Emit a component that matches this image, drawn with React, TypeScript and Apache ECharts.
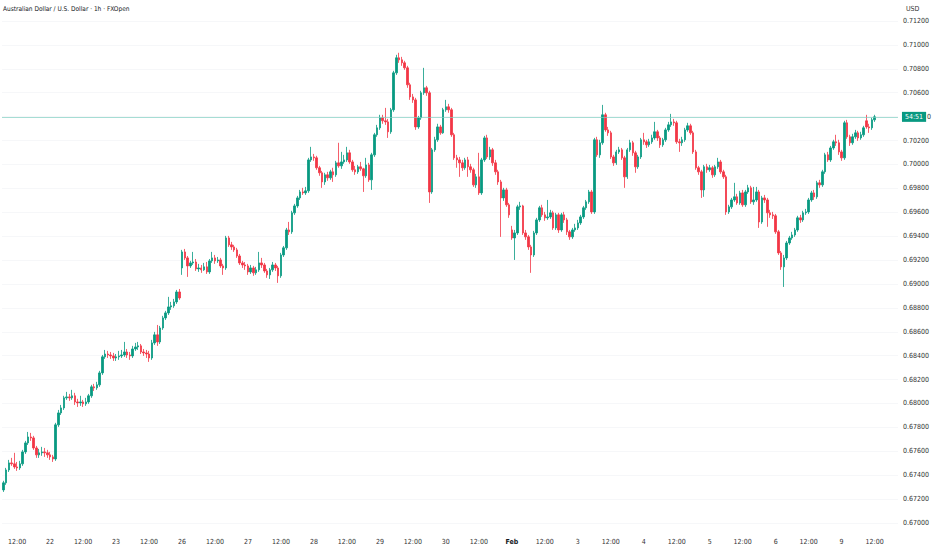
import React, { useEffect, useRef } from "react";
import * as echarts from "echarts";

// Candles as [open, high, low, close], one array per trading day (1h bars)
const jan21 = [
  [0.67277, 0.67353, 0.6726, 0.67336], [0.67336, 0.67461, 0.67319, 0.67444], [0.67444, 0.67528, 0.67427, 0.67503],
  [0.67503, 0.67545, 0.67478, 0.67495], [0.67495, 0.67587, 0.67453, 0.67469], [0.67469, 0.67511, 0.67436, 0.67461],
  [0.67461, 0.6752, 0.67444, 0.67495], [0.67495, 0.67612, 0.67478, 0.67595], [0.67595, 0.67687, 0.67578, 0.6767],
  [0.6767, 0.67762, 0.67653, 0.6772], [0.6772, 0.67754, 0.67687, 0.67712], [0.67712, 0.67729, 0.67612, 0.67628],
  [0.67628, 0.67645, 0.67545, 0.6757], [0.6757, 0.6762, 0.67545, 0.67587], [0.67587, 0.67637, 0.67562, 0.67595],
  [0.67595, 0.67628, 0.67553, 0.67587], [0.67587, 0.67612, 0.67545, 0.6757],
];
const jan22 = [
  [0.6757, 0.67595, 0.67528, 0.67553], [0.67553, 0.6757, 0.67511, 0.67536], [0.67536, 0.67838, 0.6752, 0.67821],
  [0.67821, 0.67946, 0.67804, 0.67921], [0.67921, 0.67988, 0.67904, 0.67963], [0.67963, 0.68064, 0.67946, 0.68047],
  [0.68047, 0.68097, 0.6803, 0.68055], [0.68055, 0.6808, 0.68022, 0.68047], [0.68047, 0.68114, 0.6803, 0.68064],
  [0.68064, 0.68089, 0.67988, 0.68013], [0.68013, 0.68039, 0.67971, 0.68005], [0.68005, 0.68064, 0.6798, 0.68013],
  [0.68013, 0.6803, 0.67971, 0.67997], [0.67997, 0.68047, 0.6798, 0.68013], [0.68013, 0.6808, 0.67997, 0.68064],
  [0.68064, 0.68156, 0.68047, 0.68139], [0.68139, 0.68164, 0.68105, 0.68131], [0.68131, 0.68181, 0.68114, 0.68156],
  [0.68156, 0.68273, 0.68139, 0.68256], [0.68256, 0.68406, 0.68239, 0.6839], [0.6839, 0.68448, 0.68373, 0.68414],
  [0.68414, 0.6844, 0.68381, 0.68406], [0.68406, 0.68431, 0.68373, 0.68398], [0.68398, 0.68423, 0.68356, 0.68381],
];
const jan23 = [
  [0.68381, 0.68414, 0.68356, 0.6839], [0.6839, 0.6844, 0.68365, 0.68398], [0.68398, 0.68448, 0.68381, 0.68406],
  [0.68406, 0.68515, 0.6839, 0.68431], [0.68431, 0.68456, 0.68381, 0.68406], [0.68406, 0.68431, 0.68365, 0.68398],
  [0.68398, 0.68482, 0.68381, 0.68456], [0.68456, 0.68507, 0.6844, 0.68473], [0.68473, 0.68515, 0.68448, 0.68482],
  [0.68482, 0.68498, 0.68414, 0.68431], [0.68431, 0.68456, 0.68398, 0.68423], [0.68423, 0.68448, 0.68381, 0.68414],
  [0.68414, 0.6844, 0.68348, 0.68381], [0.68381, 0.68532, 0.68365, 0.68507], [0.68507, 0.68599, 0.6849, 0.68574],
  [0.68574, 0.68657, 0.68482, 0.68515], [0.68515, 0.68649, 0.68498, 0.68632], [0.68632, 0.68733, 0.68616, 0.68716],
  [0.68716, 0.68775, 0.68699, 0.68758], [0.68758, 0.68892, 0.68741, 0.68808], [0.68808, 0.6885, 0.68783, 0.68817],
  [0.68817, 0.68875, 0.688, 0.6885], [0.6885, 0.6895, 0.68833, 0.68933], [0.68933, 0.68958, 0.68867, 0.68883],
];
const jan26 = [
  [0.69134, 0.69285, 0.69076, 0.69268], [0.69268, 0.69293, 0.69201, 0.69218], [0.69218, 0.69234, 0.69059, 0.69151],
  [0.69151, 0.69193, 0.69134, 0.69176], [0.69176, 0.69268, 0.69159, 0.69184], [0.69184, 0.69209, 0.69109, 0.69126],
  [0.69126, 0.69168, 0.69101, 0.69134], [0.69134, 0.69159, 0.69093, 0.69118], [0.69118, 0.69176, 0.69109, 0.69143],
  [0.69143, 0.69184, 0.69084, 0.69101], [0.69101, 0.69209, 0.69084, 0.69193], [0.69193, 0.69268, 0.69176, 0.69218],
  [0.69218, 0.69243, 0.69168, 0.69193], [0.69193, 0.69226, 0.69176, 0.69201], [0.69201, 0.69218, 0.69134, 0.69151],
  [0.69151, 0.69168, 0.69076, 0.69134], [0.69134, 0.69402, 0.69118, 0.69385], [0.69385, 0.69402, 0.6931, 0.69327],
  [0.69327, 0.69352, 0.69285, 0.6931], [0.6931, 0.69327, 0.69268, 0.69285], [0.69285, 0.69302, 0.69218, 0.69234],
  [0.69234, 0.69251, 0.69159, 0.69176], [0.69176, 0.69193, 0.69134, 0.69159], [0.69159, 0.69184, 0.69118, 0.69151],
];
const jan27 = [
  [0.69151, 0.69168, 0.69076, 0.69101], [0.69101, 0.69159, 0.69084, 0.69134], [0.69134, 0.69151, 0.69068, 0.69093],
  [0.69093, 0.69143, 0.69076, 0.69118], [0.69118, 0.69268, 0.69101, 0.69176], [0.69176, 0.69218, 0.69134, 0.69159],
  [0.69159, 0.69176, 0.69093, 0.69109], [0.69109, 0.69126, 0.69051, 0.69076], [0.69076, 0.69134, 0.69042, 0.69118],
  [0.69118, 0.69184, 0.69101, 0.69159], [0.69159, 0.69176, 0.69109, 0.69134], [0.69134, 0.69151, 0.69009, 0.69068],
  [0.69068, 0.6926, 0.69051, 0.69243], [0.69243, 0.69318, 0.69226, 0.69302], [0.69302, 0.69469, 0.69285, 0.69452],
  [0.69452, 0.69519, 0.6941, 0.69436], [0.69436, 0.69612, 0.69419, 0.69595], [0.69595, 0.6967, 0.69578, 0.69653],
  [0.69653, 0.69737, 0.69637, 0.6972], [0.6972, 0.69787, 0.69703, 0.6977], [0.6977, 0.69804, 0.69745, 0.69762],
  [0.69762, 0.69812, 0.69745, 0.69779], [0.69779, 0.70055, 0.69762, 0.70038], [0.70038, 0.70147, 0.70021, 0.70063],
];
const jan28 = [
  [0.70063, 0.70088, 0.7003, 0.70055], [0.70055, 0.70072, 0.69955, 0.69972], [0.69972, 0.69988, 0.69905, 0.6993],
  [0.6993, 0.69946, 0.69804, 0.69854], [0.69854, 0.6993, 0.69829, 0.69913], [0.69913, 0.69938, 0.69863, 0.69888],
  [0.69888, 0.69955, 0.69871, 0.69938], [0.69938, 0.69972, 0.69854, 0.69913], [0.69913, 0.7003, 0.69896, 0.70013],
  [0.70013, 0.70181, 0.69972, 0.69988], [0.69988, 0.70105, 0.69963, 0.70021], [0.70021, 0.7008, 0.70005, 0.70038],
  [0.70038, 0.70147, 0.70021, 0.70097], [0.70097, 0.70122, 0.70005, 0.70021], [0.70021, 0.70038, 0.69938, 0.69955],
  [0.69955, 0.69988, 0.69913, 0.69938], [0.69938, 0.69996, 0.69921, 0.6998], [0.6998, 0.70021, 0.69946, 0.69963],
  [0.69963, 0.69972, 0.6977, 0.69905], [0.69905, 0.70055, 0.69888, 0.69996], [0.69996, 0.70013, 0.69854, 0.69871],
  [0.69871, 0.70097, 0.69787, 0.7008], [0.7008, 0.70264, 0.70063, 0.70248], [0.70248, 0.70331, 0.70231, 0.70306],
];
const jan29 = [
  [0.70306, 0.70415, 0.70289, 0.7039], [0.7039, 0.70415, 0.7034, 0.70365], [0.70365, 0.70473, 0.70331, 0.70356],
  [0.70356, 0.70381, 0.70222, 0.70273], [0.70273, 0.70473, 0.70256, 0.70457], [0.70457, 0.70783, 0.7044, 0.70766],
  [0.70766, 0.70917, 0.70749, 0.70892], [0.70892, 0.70934, 0.7085, 0.70875], [0.70875, 0.709, 0.70825, 0.7085],
  [0.7085, 0.70867, 0.70791, 0.70808], [0.70808, 0.70825, 0.70641, 0.70666], [0.70666, 0.70683, 0.7054, 0.70565],
  [0.70565, 0.7059, 0.70515, 0.7054], [0.7054, 0.70557, 0.70289, 0.70314], [0.70314, 0.70406, 0.70298, 0.7039],
  [0.7039, 0.70616, 0.70373, 0.70599], [0.70599, 0.70808, 0.70582, 0.70641], [0.70641, 0.70657, 0.70574, 0.70599],
  [0.70599, 0.70616, 0.69678, 0.6977], [0.6977, 0.70138, 0.69754, 0.70122], [0.70122, 0.70231, 0.70105, 0.70206],
  [0.70206, 0.7034, 0.70189, 0.70314], [0.70314, 0.70331, 0.70248, 0.70264], [0.70264, 0.70473, 0.70256, 0.70457],
];
const jan30 = [
  [0.70457, 0.7054, 0.7044, 0.70482], [0.70482, 0.70507, 0.70432, 0.70457], [0.70457, 0.70473, 0.70231, 0.70248],
  [0.70248, 0.70264, 0.70038, 0.70055], [0.70055, 0.7008, 0.69972, 0.70038], [0.70038, 0.70063, 0.69896, 0.70013],
  [0.70013, 0.70038, 0.69946, 0.69972], [0.69972, 0.70055, 0.69955, 0.70038], [0.70038, 0.70063, 0.69896, 0.6998],
  [0.6998, 0.70005, 0.6993, 0.69955], [0.69955, 0.69972, 0.69812, 0.69829], [0.69829, 0.69921, 0.69804, 0.69896],
  [0.69896, 0.70097, 0.69745, 0.69762], [0.69762, 0.70055, 0.69745, 0.70038], [0.70038, 0.70239, 0.70021, 0.70222],
  [0.70222, 0.70248, 0.70046, 0.70063], [0.70063, 0.70147, 0.70038, 0.70122], [0.70122, 0.70138, 0.69988, 0.70013],
  [0.70013, 0.70038, 0.69913, 0.69938], [0.69938, 0.69955, 0.69829, 0.69854], [0.69854, 0.69871, 0.69394, 0.6972],
  [0.6972, 0.69804, 0.69695, 0.69787], [0.69787, 0.69804, 0.69645, 0.69662], [0.69662, 0.69678, 0.69553, 0.69578],
];
const feb02 = [
  [0.69452, 0.69486, 0.69369, 0.69385], [0.69385, 0.69452, 0.69201, 0.69427], [0.69427, 0.69662, 0.6941, 0.69645],
  [0.69645, 0.69687, 0.6962, 0.69653], [0.69653, 0.69662, 0.6941, 0.69427], [0.69427, 0.69452, 0.69369, 0.69394],
  [0.69394, 0.6941, 0.69285, 0.6931], [0.6931, 0.69327, 0.69093, 0.69243], [0.69243, 0.69444, 0.69226, 0.69427],
  [0.69427, 0.69553, 0.6941, 0.69536], [0.69536, 0.69653, 0.69519, 0.69637], [0.69637, 0.69662, 0.69561, 0.69578],
  [0.69578, 0.69603, 0.69528, 0.69553], [0.69553, 0.69703, 0.69536, 0.69561], [0.69561, 0.6962, 0.69544, 0.69595],
  [0.69595, 0.69612, 0.69452, 0.69469], [0.69469, 0.69595, 0.69452, 0.69578], [0.69578, 0.69595, 0.69427, 0.69452],
  [0.69452, 0.69595, 0.69436, 0.69578], [0.69578, 0.69603, 0.69511, 0.69536], [0.69536, 0.69553, 0.6941, 0.69436],
  [0.69436, 0.69452, 0.69369, 0.69394], [0.69394, 0.69469, 0.69377, 0.69452], [0.69452, 0.69503, 0.69436, 0.69469],
];
const feb03 = [
  [0.69469, 0.69536, 0.69452, 0.69511], [0.69511, 0.69578, 0.69494, 0.69561], [0.69561, 0.69653, 0.69544, 0.69637],
  [0.69637, 0.69703, 0.6962, 0.69687], [0.69687, 0.69787, 0.6967, 0.6977], [0.6977, 0.69787, 0.69586, 0.69603],
  [0.69603, 0.70222, 0.69586, 0.70206], [0.70206, 0.70231, 0.70063, 0.7008], [0.7008, 0.70206, 0.70055, 0.70181],
  [0.70181, 0.70498, 0.70164, 0.70415], [0.70415, 0.70432, 0.70273, 0.70289], [0.70289, 0.70314, 0.70239, 0.70264],
  [0.70264, 0.70281, 0.70046, 0.70063], [0.70063, 0.7008, 0.69988, 0.70013], [0.70013, 0.70122, 0.69996, 0.70105],
  [0.70105, 0.70147, 0.70088, 0.70122], [0.70122, 0.70138, 0.70038, 0.70055], [0.70055, 0.70072, 0.69804, 0.69896],
  [0.69896, 0.70138, 0.69879, 0.70122], [0.70122, 0.70206, 0.70105, 0.70181], [0.70181, 0.70197, 0.70072, 0.70097],
  [0.70097, 0.70114, 0.6993, 0.6998], [0.6998, 0.7008, 0.69963, 0.70063], [0.70063, 0.70222, 0.70046, 0.70206],
];
const feb04 = [
  [0.70206, 0.70264, 0.70164, 0.70189], [0.70189, 0.70206, 0.70138, 0.70164], [0.70164, 0.70214, 0.70147, 0.70189],
  [0.70189, 0.70248, 0.70172, 0.70222], [0.70222, 0.70356, 0.70206, 0.70273], [0.70273, 0.70289, 0.70197, 0.70222],
  [0.70222, 0.70239, 0.70138, 0.70164], [0.70164, 0.70222, 0.70147, 0.70206], [0.70206, 0.70306, 0.70189, 0.70289],
  [0.70289, 0.70356, 0.70273, 0.70331], [0.70331, 0.70423, 0.70314, 0.70356], [0.70356, 0.70381, 0.70323, 0.70348],
  [0.70348, 0.70365, 0.70172, 0.70189], [0.70189, 0.70214, 0.70105, 0.70181], [0.70181, 0.70231, 0.70155, 0.70206],
  [0.70206, 0.70306, 0.70189, 0.70289], [0.70289, 0.70348, 0.70273, 0.70323], [0.70323, 0.7034, 0.70248, 0.70264],
  [0.70264, 0.70281, 0.70088, 0.70105], [0.70105, 0.70122, 0.69955, 0.69972], [0.69972, 0.69988, 0.69913, 0.69938],
  [0.69938, 0.69955, 0.6972, 0.69787], [0.69787, 0.69996, 0.69729, 0.6998], [0.6998, 0.70005, 0.6993, 0.69955],
];
const feb05 = [
  [0.69955, 0.69996, 0.69938, 0.69972], [0.69972, 0.69988, 0.69888, 0.69913], [0.69913, 0.69996, 0.69896, 0.6998],
  [0.6998, 0.70055, 0.69963, 0.70021], [0.70021, 0.70038, 0.69921, 0.69938], [0.69938, 0.69955, 0.69879, 0.69896],
  [0.69896, 0.69913, 0.69578, 0.69603], [0.69603, 0.69662, 0.69586, 0.69645], [0.69645, 0.6972, 0.69628, 0.69703],
  [0.69703, 0.69846, 0.69687, 0.69729], [0.69729, 0.69754, 0.69662, 0.69678], [0.69678, 0.69779, 0.69662, 0.69762],
  [0.69762, 0.69787, 0.69645, 0.69662], [0.69662, 0.69787, 0.69645, 0.6977], [0.6977, 0.69829, 0.69754, 0.69804],
  [0.69804, 0.69821, 0.6967, 0.69687], [0.69687, 0.69812, 0.69662, 0.69703], [0.69703, 0.69812, 0.69687, 0.6977],
  [0.6977, 0.69787, 0.69469, 0.69519], [0.69519, 0.69737, 0.69503, 0.6972], [0.6972, 0.69745, 0.69678, 0.69703],
  [0.69703, 0.6972, 0.69478, 0.69595], [0.69595, 0.6962, 0.69553, 0.69578], [0.69578, 0.69603, 0.69544, 0.6957],
];
const feb06 = [
  [0.6957, 0.69586, 0.69419, 0.69436], [0.69436, 0.69452, 0.69243, 0.6926], [0.6926, 0.69276, 0.69118, 0.69143],
  [0.69143, 0.69243, 0.68975, 0.69218], [0.69218, 0.6936, 0.69201, 0.69343], [0.69343, 0.69402, 0.69327, 0.69385],
  [0.69385, 0.69436, 0.69369, 0.6941], [0.6941, 0.69469, 0.69394, 0.69452], [0.69452, 0.6957, 0.69436, 0.69553],
  [0.69553, 0.69578, 0.69511, 0.69536], [0.69536, 0.69612, 0.69519, 0.69595], [0.69595, 0.69628, 0.69578, 0.69603],
  [0.69603, 0.6972, 0.69586, 0.69703], [0.69703, 0.69779, 0.69687, 0.69762], [0.69762, 0.69787, 0.69703, 0.69729],
  [0.69729, 0.69863, 0.69712, 0.69846], [0.69846, 0.69871, 0.69804, 0.69829], [0.69829, 0.69955, 0.69812, 0.69938],
  [0.69938, 0.70097, 0.69921, 0.7008], [0.7008, 0.70105, 0.70021, 0.70038], [0.70038, 0.70155, 0.70021, 0.70138],
  [0.70138, 0.70206, 0.70122, 0.70189], [0.70189, 0.70248, 0.70155, 0.70181], [0.70181, 0.70206, 0.7008, 0.70105],
];
const feb09 = [
  [0.70105, 0.70122, 0.7003, 0.70055], [0.70055, 0.70365, 0.70038, 0.70348], [0.70348, 0.70373, 0.70214, 0.70231],
  [0.70231, 0.70248, 0.70155, 0.70181], [0.70181, 0.70256, 0.70164, 0.70231], [0.70231, 0.70289, 0.70214, 0.70264],
  [0.70264, 0.70281, 0.70197, 0.70222], [0.70222, 0.70273, 0.70206, 0.70248], [0.70248, 0.70323, 0.70231, 0.70306],
  [0.70365, 0.70415, 0.70298, 0.70314], [0.70314, 0.7034, 0.70264, 0.70306], [0.70306, 0.7039, 0.70289, 0.70373],
  [0.70373, 0.70415, 0.70356, 0.70398],
];

const tradingDays: [string, number[][]][] = [
  ["01-21", jan21], ["01-22", jan22], ["01-23", jan23], ["01-26", jan26], ["01-27", jan27],
  ["01-28", jan28], ["01-29", jan29], ["01-30", jan30], ["02-02", feb02], ["02-03", feb03],
  ["02-04", feb04], ["02-05", feb05], ["02-06", feb06], ["02-09", feb09],
];

const tickLabels: Record<string, string> = {
  "01-21 12:00": "12:00", "01-22 00:00": "22", "01-22 12:00": "12:00", "01-23 00:00": "23",
  "01-23 12:00": "12:00", "01-26 00:00": "26", "01-26 12:00": "12:00", "01-27 00:00": "27",
  "01-27 12:00": "12:00", "01-28 00:00": "28", "01-28 12:00": "12:00", "01-29 00:00": "29",
  "01-29 12:00": "12:00", "01-30 00:00": "30", "01-30 12:00": "12:00", "02-02 00:00": "Feb",
  "02-02 12:00": "12:00", "02-03 00:00": "3", "02-03 12:00": "12:00", "02-04 00:00": "4",
  "02-04 12:00": "12:00", "02-05 00:00": "5", "02-05 12:00": "12:00", "02-06 00:00": "6",
  "02-06 12:00": "12:00", "02-09 00:00": "9", "02-09 12:00": "12:00",
};

const yTicks = { min: 0.67, max: 0.712, step: 0.002 };
const titleText = "Australian Dollar / U.S. Dollar · 1h · FXOpen";
const currencyText = "USD";
const countdownText = "54:51";
const hiddenPriceTail = "0";
const RIGHT_PAD_BARS = 8;

const UP = "#089981";
const DOWN = "#F23645";
const FONT = "'Liberation Sans Narrow', 'DejaVu Sans Condensed', 'Liberation Sans', sans-serif";

export default function App() {
  const ref = useRef<HTMLDivElement>(null);

  useEffect(() => {
    document.body.style.margin = "0";
    if (!ref.current) return;
    const chart = echarts.init(ref.current, undefined, { renderer: "svg" });

    const categories: string[] = [];
    const data: any[] = [];
    tradingDays.forEach(([day, bars], di) => {
      const startHour = di === 0 ? 24 - bars.length : 0;
      bars.forEach((b, k) => {
        const h = startHour + k;
        categories.push(`${day} ${String(h).padStart(2, "0")}:00`);
        data.push([b[0], b[3], b[2], b[1]]);
      });
    });
    for (let p = 0; p < RIGHT_PAD_BARS; p++) {
      categories.push(`pad${p}`);
      data.push("-");
    }
    const lastBar = feb09[feb09.length - 1];
    const lastClose = lastBar[3];

    chart.setOption({
      animation: false,
      backgroundColor: "#ffffff",
      textStyle: { fontFamily: FONT },
      grid: { left: 2, right: 33, top: 21, bottom: 27 },
      xAxis: {
        type: "category",
        data: categories,
        boundaryGap: true,
        axisLine: { show: false },
        axisTick: { show: false },
        splitLine: { show: false },
        axisLabel: {
          interval: (_i: number, v: string) => v in tickLabels,
          formatter: (v: string) => (tickLabels[v] === "Feb" ? "{b|Feb}" : tickLabels[v] ?? ""),
          color: "#333",
          fontSize: 7,
          fontFamily: FONT,
          margin: 15,
          hideOverlap: false,
          rich: { b: { fontWeight: "bold", color: "#131722", fontSize: 7, fontFamily: FONT } },
        },
      },
      yAxis: {
        type: "value",
        position: "right",
        min: yTicks.min,
        max: yTicks.max,
        interval: yTicks.step,
        axisLine: { show: false },
        axisTick: { show: false },
        splitLine: { show: true, lineStyle: { color: "#f6f7f9", width: 1 } },
        axisLabel: {
          // the tick hidden behind the live-price box is not drawn separately
          formatter: (v: number) => (Math.abs(v - lastClose) < 0.0008 ? "" : v.toFixed(5)),
          color: "#333",
          fontSize: 7,
          fontFamily: FONT,
          margin: 5,
        },
      },
      series: [
        {
          type: "candlestick",
          data,
          barWidth: "72%",
          z: 3,
          itemStyle: {
            color: UP,
            color0: DOWN,
            borderColor: UP,
            borderColor0: DOWN,
            borderWidth: 0.8,
          },
        },
        {
          type: "line",
          data: [],
          z: 10,
          silent: true,
          markLine: {
            silent: true,
            precision: 5,
            symbol: ["none", "none"],
            z: 10,
            data: [{ yAxis: lastClose }],
            lineStyle: { color: "#7fcfc2", type: "solid", width: 0.7, opacity: 1 },
            label: {
              show: true,
              position: "end",
              distance: 4,
              formatter: `{a|${countdownText}}{b|${hiddenPriceTail}}`,
              rich: {
                a: {
                  backgroundColor: UP,
                  color: "#ffffff",
                  fontSize: 7,
                  fontFamily: FONT,
                  padding: [2, 3, 1, 3],
                },
                b: { color: "#333", fontSize: 7, fontFamily: FONT, padding: [0, 0, 0, 1] },
              },
            },
          },
        },
      ],
      graphic: [
        {
          type: "text",
          left: 3,
          top: 5,
          style: { text: titleText, fill: "#131722", fontSize: 6.5, fontFamily: FONT },
        },
        {
          type: "text",
          left: 906,
          top: 5,
          style: { text: currencyText, fill: "#333", fontSize: 7, fontFamily: FONT },
        },
      ],
    });

    return () => chart.dispose();
  }, []);

  return (
    <div
      ref={ref}
      style={{ position: "absolute", left: 0, top: 0, width: 932, height: 550, background: "#fff" }}
    />
  );
}
